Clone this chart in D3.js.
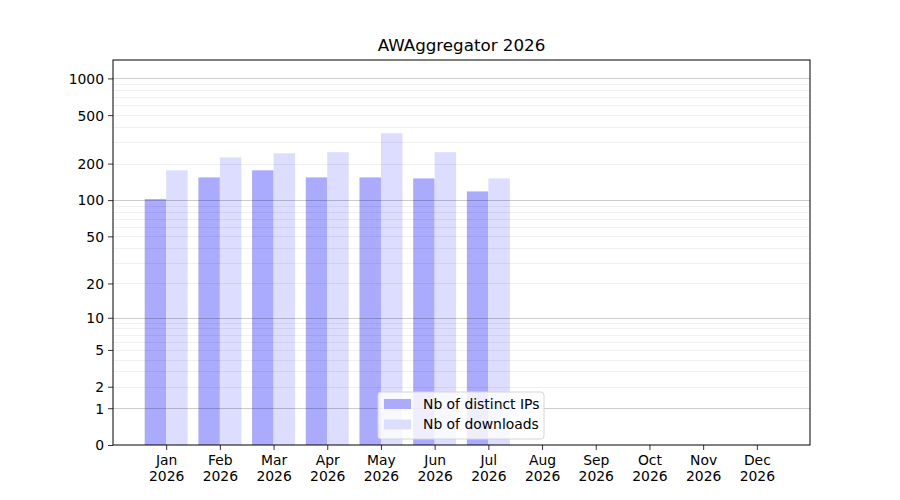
<!DOCTYPE html>
<html>
<head>
<meta charset="utf-8">
<script src="https://cdn.jsdelivr.net/npm/d3@7"></script>
<style>
  body { margin: 0; background: #fff; }
  text { font-family: "DejaVu Sans", sans-serif; }
</style>
</head>
<body>
<svg id="chart" width="900" height="500"></svg>
<script>
// chart data
var months    = [ 'Jan', 'Feb', 'Mar', 'Apr', 'May', 'Jun', 'Jul', 'Aug', 'Sep', 'Oct', 'Nov', 'Dec' ];
var year      = '2026';
var ips       = [ 102, 154, 176, 154, 154, 151, 118, 0, 0, 0, 0, 0 ];
var downloads = [ 176, 225, 243, 248, 355, 248, 151, 0, 0, 0, 0, 0 ];
var yTicks    = [ 0, 1, 2, 5, 10, 20, 50, 100, 200, 500, 1000 ];
var majorGrid = [ 1, 10, 100, 1000 ];
var minorGrid = [ 2, 3, 4, 5, 6, 7, 8, 9, 20, 30, 40, 50, 60, 70, 80, 90, 200, 300, 400, 500, 600, 700, 800, 900 ];
var seriesNames  = [ 'Nb of distinct IPs', 'Nb of downloads' ];
var seriesColors = [ '#aaaaff', '#ddddff' ];

// chart dimensions
var margin = { top: 60, right: 90, bottom: 55, left: 113 },
    width  = 900 - margin.left - margin.right,
    height = 500 - margin.top - margin.bottom;

var svg = d3.select( '#chart' )
  .append( 'g' )
  .attr( 'transform', 'translate(' + margin.left + ',' + margin.top + ')' );

var xScale = d3.scaleLinear()
  .domain( [ -0.99, months.length - 1 + 0.99 ] )
  .range( [ 0, width ] );

var yScale = d3.scaleSymlog()
  .constant( 1 )
  .domain( [ 0, 1415 ] )
  .range( [ height, 0 ] );

var barW = xScale( 0.4 ) - xScale( 0 );

// bars
[ ips, downloads ].forEach( function( values, s ) {
  svg.selectAll( '.bar' + s )
    .data( values )
    .enter()
    .append( 'rect' )
      .attr( 'x', function( d, i ) { return xScale( i ) + ( s === 0 ? -barW : 0 ); } )
      .attr( 'y', function( d ) { return yScale( d ); } )
      .attr( 'width', barW )
      .attr( 'height', function( d ) { return height - yScale( d ); } )
      .attr( 'fill', seriesColors[ s ] );
});

// grid on top of the bars
svg.selectAll( '.minor' )
  .data( minorGrid )
  .enter()
  .append( 'line' )
    .attr( 'x1', 0 ).attr( 'x2', width )
    .attr( 'y1', function( d ) { return Math.round( yScale( d ) ) + 0.5; } )
    .attr( 'y2', function( d ) { return Math.round( yScale( d ) ) + 0.5; } )
    .attr( 'stroke', 'rgba(0,0,0,0.07)' )
    .attr( 'stroke-width', 0.8 );

svg.selectAll( '.major' )
  .data( majorGrid )
  .enter()
  .append( 'line' )
    .attr( 'x1', 0 ).attr( 'x2', width )
    .attr( 'y1', function( d ) { return Math.round( yScale( d ) ) + 0.5; } )
    .attr( 'y2', function( d ) { return Math.round( yScale( d ) ) + 0.5; } )
    .attr( 'stroke', 'rgba(0,0,0,0.2)' )
    .attr( 'stroke-width', 1 );

// axes
var yAxis = d3.axisLeft( yScale )
  .tickValues( yTicks )
  .tickFormat( d3.format( 'd' ) )
  .tickSize( 5 )
  .tickPadding( 4 );

var xAxis = d3.axisBottom( xScale )
  .tickValues( d3.range( months.length ) )
  .tickFormat( function( i ) { return months[ i ]; } )
  .tickSize( 5 )
  .tickPadding( 5.5 );

var gy = svg.append( 'g' ).call( yAxis );
var gx = svg.append( 'g' ).attr( 'transform', 'translate(0,' + height + ')' ).call( xAxis );

[ gx, gy ].forEach( function( g ) {
  g.select( '.domain' ).remove();
  g.selectAll( 'line' ).attr( 'stroke', '#000' ).attr( 'stroke-width', 0.8 );
  g.selectAll( 'text' ).attr( 'font-size', '13.9px' ).attr( 'fill', '#000' );
});

gy.selectAll( 'text' ).attr( 'dy', '0.35em' );

gx.selectAll( '.tick text' ).each( function( i ) {
  var t = d3.select( this ).text( null );
  t.append( 'tspan' ).attr( 'x', 0 ).attr( 'dy', '0.71em' ).text( months[ i ] );
  t.append( 'tspan' ).attr( 'x', 0 ).attr( 'dy', '1.14em' ).text( year );
});

// frame
svg.append( 'rect' )
  .attr( 'width', width ).attr( 'height', height )
  .attr( 'fill', 'none' )
  .attr( 'stroke', '#000' )
  .attr( 'stroke-width', 1 );

// title
svg.append( 'text' )
  .attr( 'x', width / 2 )
  .attr( 'y', -9 )
  .attr( 'text-anchor', 'middle' )
  .attr( 'font-size', '16.7px' )
  .text( 'AWAggregator ' + year );

// legend
var legend = svg.append( 'g' ).attr( 'transform', 'translate(265,332)' );

legend.append( 'rect' )
  .attr( 'width', 166 ).attr( 'height', 47 )
  .attr( 'rx', 3 )
  .attr( 'fill', 'rgba(255,255,255,0.8)' )
  .attr( 'stroke', '#d6d6d6' );

seriesNames.forEach( function( name, i ) {
  legend.append( 'rect' )
    .attr( 'x', 6 ).attr( 'y', 7 + i * 20.5 )
    .attr( 'width', 27 ).attr( 'height', 10 )
    .attr( 'fill', seriesColors[ i ] );
  legend.append( 'text' )
    .attr( 'x', 45 ).attr( 'y', 12 + i * 20.5 )
    .attr( 'dy', '0.35em' )
    .attr( 'font-size', '13.9px' )
    .text( name );
});
</script>
</body>
</html>
